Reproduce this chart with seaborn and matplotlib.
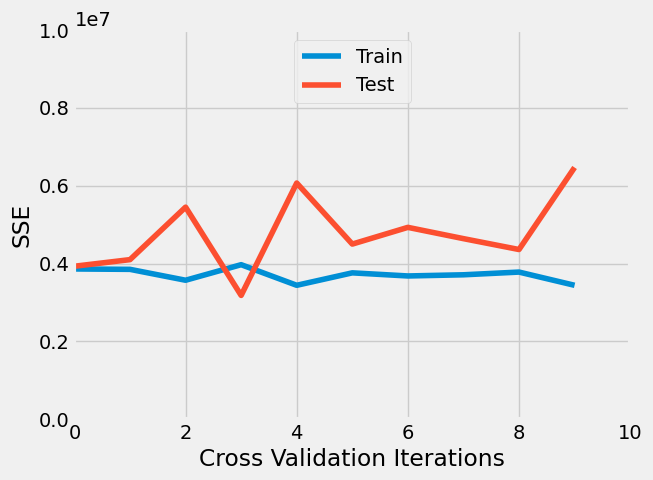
import matplotlib
matplotlib.use("Agg")
import matplotlib.pyplot as plt
import pandas as pd
import seaborn as sns

iterations = list(range(10))
train_sse = [3.86e6, 3.85e6, 3.57e6, 3.97e6, 3.44e6, 3.76e6, 3.68e6, 3.71e6, 3.78e6, 3.44e6]
test_sse = [3.93e6, 4.10e6, 5.45e6, 3.18e6, 6.07e6, 4.50e6, 4.93e6, 4.64e6, 4.36e6, 6.47e6]

plt.style.use("fivethirtyeight")

df = pd.DataFrame({
    "iteration": iterations * 2,
    "sse": train_sse + test_sse,
    "set": ["Train"] * 10 + ["Test"] * 10,
})

fig, ax = plt.subplots(figsize=(6.53, 4.8), dpi=100)
sns.lineplot(data=df, x="iteration", y="sse", hue="set", ax=ax,
             palette=["#008fd5", "#fc4f30"])
ax.set_xlim(0, 10)
ax.set_ylim(0, 1e7)
ax.set_xlabel("Cross Validation Iterations")
ax.set_ylabel("SSE")
ax.legend(loc="upper center", title=None)
fig.subplots_adjust(left=0.114, right=0.965, bottom=0.127, top=0.937)
fig.savefig("out.png")
